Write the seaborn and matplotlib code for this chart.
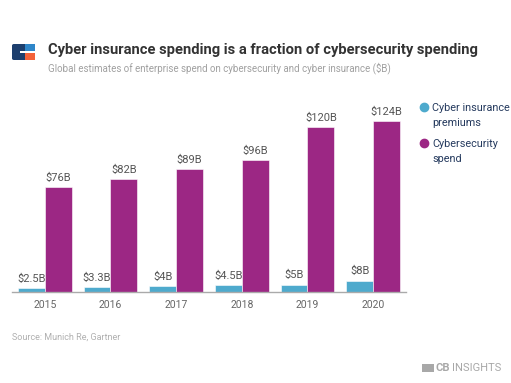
import matplotlib
matplotlib.use("Agg")
import matplotlib.pyplot as plt
import matplotlib.patches as mpatches
from matplotlib.lines import Line2D
import pandas as pd
import seaborn as sns

years = ["2015", "2016", "2017", "2018", "2019", "2020"]
insurance = [2.5, 3.3, 4, 4.5, 5, 8]
security = [76, 82, 89, 96, 120, 124]
series_names = ["Cyber insurance\npremiums", "Cybersecurity\nspend"]
colors = ["#4eaacd", "#9c2784"]

df = pd.DataFrame({
    "year": years * 2,
    "value": insurance + security,
    "series": [series_names[0]] * len(years) + [series_names[1]] * len(years),
})

sns.set_theme(style="white")
plt.rcParams["font.family"] = ["Roboto", "DejaVu Sans"]

W, H = 511, 383
fig = plt.figure(figsize=(W / 100, H / 100), dpi=100)
ax = fig.add_axes([12 / W, 1 - 291.5 / H, 394 / W, 191.5 / H])

sns.barplot(data=df, x="year", y="value", hue="series", palette=colors,
            saturation=1, width=0.82, edgecolor="white", linewidth=0.4,
            ax=ax, legend=False)

for cont, vals in zip(ax.containers, [insurance, security]):
    ax.bar_label(cont, labels=[f"${v:g}B" for v in vals], padding=3,
                 fontsize=8, color="#555555")

ax.set_xlim(-0.5, 5.5)
ax.set_ylim(0, 139.5)
ax.set_xlabel("")
ax.set_ylabel("")
ax.set_yticks([])
ax.tick_params(axis="x", length=0, pad=6, labelsize=7.5, labelcolor="#666666")
for s in ["top", "left", "right"]:
    ax.spines[s].set_visible(False)
ax.spines["bottom"].set_color("#aaaaaa")
ax.spines["bottom"].set_linewidth(1)

# legend, marker aligned with the first line of each label
for i, (name, c) in enumerate(zip(series_names, colors)):
    y = 1 - (107 + 36 * i) / H
    fig.add_artist(Line2D([424 / W], [y], marker="o", markersize=6, linestyle="",
                          markerfacecolor=c, markeredgecolor=c,
                          transform=fig.transFigure))
    fig.text(432 / W, y + 4 / H, name, fontsize=7.8, color="#253a5e",
             va="top", linespacing=1.65)

# header
fig.text(48 / W, 1 - 50 / H,
         "Cyber insurance spending is a fraction of cybersecurity spending",
         fontsize=10.6, fontweight="bold", color="#333333", va="center")
fig.text(48 / W, 1 - 68 / H,
         "Global estimates of enterprise spend on cybersecurity and cyber insurance ($B)",
         fontsize=7, color="#a0a0a0", va="center")

# logo
fig.patches.append(mpatches.FancyBboxPatch((12 / W, 1 - 60 / H), 23 / W, 16 / H,
                   boxstyle="round,pad=0,rounding_size=0.004", transform=fig.transFigure,
                   facecolor="#1d3f6e", edgecolor="none"))
fig.patches.append(mpatches.Rectangle((25 / W, 1 - 52 / H), 10 / W, 8 / H,
                   transform=fig.transFigure, facecolor="#2f86c9", edgecolor="none"))
fig.patches.append(mpatches.Rectangle((25 / W, 1 - 60 / H), 10 / W, 8 / H,
                   transform=fig.transFigure, facecolor="#f4623a", edgecolor="none"))
fig.patches.append(mpatches.Rectangle((20 / W, 1 - 53 / H), 15 / W, 2 / H,
                   transform=fig.transFigure, facecolor="white", edgecolor="none"))

fig.text(12 / W, 1 - 337 / H, "Source: Munich Re, Gartner",
         fontsize=6.5, color="#b0b0b0", va="center")

# CB Insights mark
fig.patches.append(mpatches.Rectangle((422 / W, 1 - 372 / H), 12 / W, 8 / H,
                   transform=fig.transFigure, facecolor="#a8a8a8", edgecolor="none"))
fig.text(436 / W, 1 - 368 / H, "CB", fontsize=8, fontweight="bold",
         color="#a8a8a8", va="center")
fig.text(452 / W, 1 - 368 / H, "INSIGHTS", fontsize=8,
         color="#a8a8a8", va="center")

fig.savefig("out.png", dpi=100)
